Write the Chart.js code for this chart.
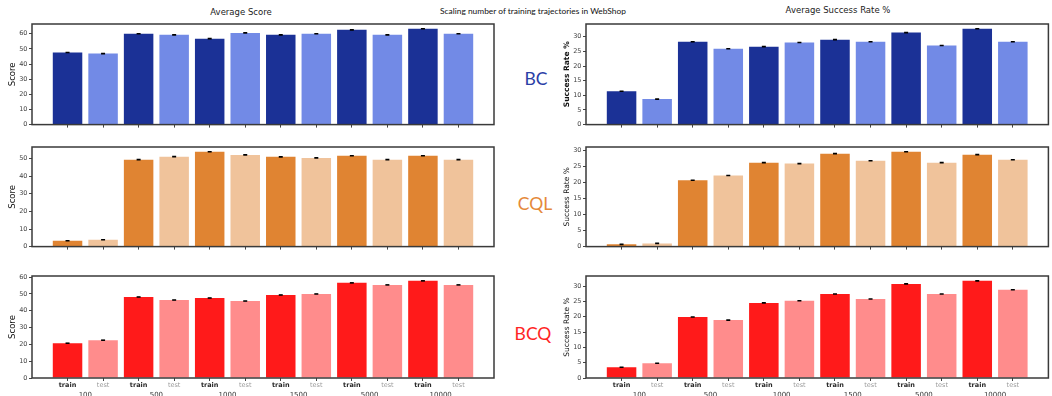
<!DOCTYPE html>
<html lang="en">
<head>
  <meta charset="UTF-8">
  <title>Scaling number of training trajectories in WebShop</title>
  <script src="https://cdn.jsdelivr.net/npm/chart.js"></script>
  <style>
    html, body {
      margin: 0;
      padding: 0;
      background: #fff;
      width: 1052px;
      height: 396px;
      overflow: hidden;
    }
    .panel { position: absolute; }
    .txt {
      position: absolute;
      transform: translate(-50%, -50%);
      white-space: nowrap;
      font-family: "DejaVu Sans", sans-serif;
      color: #222;
    }
    .row-label { font-family: Lato, "Open Sans", sans-serif; font-size: 17.5px; z-index: 2; }
  </style>
</head>
<body>

<div class="txt" style="left:241px; top:12px; font-size:8.5px;">Average Score</div>
<div class="txt" style="left:533px; top:10.5px; font-family:Lato, sans-serif; font-size:8.4px; color:#111;">Scaling number of training trajectories in WebShop</div>
<div class="txt" style="left:838px; top:10px; font-size:8.5px;">Average Success Rate %</div>

<div class="txt row-label" style="left:536px; top:78px; color:#2b3ea6;">BC</div>
<div class="txt row-label" style="left:535px; top:203px; color:#e5893a;">CQL</div>
<div class="txt row-label" style="left:533px; top:333px; color:#ff2424;">BCQ</div>

<div class="panel" style="left:0px; top:14px; width:504px; height:116px;"><canvas id="bcScore"></canvas></div>
<div class="panel" style="left:555px; top:14px; width:497px; height:116px;"><canvas id="bcSucc"></canvas></div>
<div class="panel" style="left:0px; top:137px; width:504px; height:115px;"><canvas id="cqlScore"></canvas></div>
<div class="panel" style="left:555px; top:137px; width:497px; height:115px;"><canvas id="cqlSucc"></canvas></div>
<div class="panel" style="left:0px; top:266px; width:504px; height:140px;"><canvas id="bcqScore"></canvas></div>
<div class="panel" style="left:555px; top:266px; width:497px; height:140px;"><canvas id="bcqSucc"></canvas></div>

<script>
  // data
  const groups = ['100', '500', '1000', '1500', '5000', '10000'];
  const splits = ['train', 'test'];

  const bcScore   = [47.6, 46.9, 60.0, 59.3, 56.8, 60.6, 59.3, 60.0, 62.6, 59.3, 63.3, 60.0];
  const bcSucc    = [11.4, 8.7, 28.3, 25.9, 26.6, 28.0, 29.0, 28.3, 31.4, 27.0, 32.7, 28.3];
  const cqlScore  = [3.3, 3.9, 49.4, 51.1, 53.9, 52.1, 51.0, 50.4, 51.6, 49.4, 51.6, 49.4];
  const cqlSucc   = [0.7, 1.0, 20.7, 22.2, 26.2, 25.9, 29.0, 26.8, 29.6, 26.2, 28.7, 27.1];
  const bcqScore  = [20.7, 22.5, 48.2, 46.4, 47.6, 45.8, 49.4, 50.0, 56.6, 55.4, 57.8, 55.4];
  const bcqSucc   = [3.5, 4.8, 19.9, 18.9, 24.5, 25.2, 27.4, 25.8, 30.7, 27.4, 31.7, 28.8];

  const xLabels = [];
  groups.forEach(() => splits.forEach(s => xLabels.push(s)));

  Chart.defaults.font.family = '"DejaVu Sans", sans-serif';
  Chart.defaults.color = '#333';

  // box around the plot area, like matplotlib spines
  const frame = {
    id: 'frame',
    afterDatasetsDraw(chart) {
      const a = chart.chartArea, ctx = chart.ctx;
      ctx.save();
      ctx.strokeStyle = '#3a3a3a';
      ctx.lineWidth = 1.5;
      ctx.strokeRect(a.left, a.top, a.right - a.left, a.bottom - a.top);
      ctx.restore();
    }
  };

  function makePanel(id, values, colors, yTitle, step, opt) {
    const bottom = opt.bottom;
    const scales = {
      x: {
        type: 'linear',
        min: -1,
        max: 12,
        offset: false,
        border: { display: false },
        grid: { display: true, drawOnChartArea: false, offset: false, tickLength: 3, tickColor: '#444', tickWidth: 1 },
        afterBuildTicks: s => { s.ticks = xLabels.map((_, i) => ({ value: i })); },
        afterFit: s => { s.height = bottom ? 12 : 4; },
        ticks: {
          display: bottom,
          autoSkip: false,
          maxRotation: 0,
          padding: 0,
          callback: v => xLabels[v],
          color: c => (c.index % 2 === 0 ? '#2a2a2a' : '#999'),
          font: c => ({ size: 6.5, weight: c.index % 2 === 0 ? 'bold' : 'normal' })
        }
      },
      y: {
        min: 0,
        max: Math.max(...values) * 1.05,
        border: { display: false },
        grid: { drawOnChartArea: false, tickLength: 3, tickColor: '#444', tickWidth: 1 },
        afterFit: s => { s.width = opt.yWidth; },
        ticks: { stepSize: step, includeBounds: false, padding: 1.5, color: '#444', font: { size: 6.5 } },
        title: {
          display: true,
          text: yTitle,
          color: '#111',
          padding: { top: 8, bottom: 0 },
          font: { size: opt.titleSize, weight: opt.titleBold ? 'bold' : 'normal' }
        }
      }
    };
    if (bottom) {
      scales.x2 = {
        type: 'linear',
        position: 'bottom',
        min: -1,
        max: 12,
        offset: false,
        border: { display: false },
        grid: { display: false, drawTicks: false },
        afterBuildTicks: s => { s.ticks = groups.map((_, i) => ({ value: i * 2 + 0.5 })); },
        afterFit: s => { s.height = 16; },
        ticks: {
          autoSkip: false,
          maxRotation: 0,
          padding: 1,
          color: '#333',
          font: { size: 7 },
          callback: (v, i) => groups[i]
        }
      };
    }

    new Chart(document.getElementById(id), {
      type: 'bar',
      data: {
        datasets: [
          {
            type: 'line',
            data: values.map((v, i) => ({ x: i, y: v })),
            showLine: false,
            pointStyle: 'line',
            pointRadius: 2,
            pointHoverRadius: 2,
            pointBorderWidth: 1.6,
            pointBorderColor: '#000',
            order: 0
          },
          {
            data: values.map((v, i) => ({ x: i, y: v })),
            backgroundColor: values.map((_, i) => colors[i % 2]),
            barPercentage: 0.83,
            categoryPercentage: 1,
            order: 1
          }
        ]
      },
      options: {
        responsive: true,
        maintainAspectRatio: false,
        animation: false,
        layout: { padding: { top: 10, right: opt.right, bottom: 0, left: 0 } },
        plugins: { legend: { display: false }, tooltip: { enabled: false } },
        scales: scales
      },
      plugins: [frame]
    });
  }

  const bcColors  = ['#1b3196', '#728ae6'];
  const cqlColors = ['#e08432', '#f0c39b'];
  const bcqColors = ['#ff1a1a', '#ff8c8c'];

  const left  = { yWidth: 32, right: 10, titleSize: 8.5 };
  const right = { yWidth: 31, right: 3, titleSize: 7.5 };

  makePanel('bcScore',  bcScore,  bcColors,  'Score', 10, { ...left, bottom: false });
  makePanel('bcSucc',   bcSucc,   bcColors,  'Success Rate %', 5, { ...right, bottom: false, titleBold: true });
  makePanel('cqlScore', cqlScore, cqlColors, 'Score', 10, { ...left, bottom: false });
  makePanel('cqlSucc',  cqlSucc,  cqlColors, 'Success Rate %', 5, { ...right, bottom: false });
  makePanel('bcqScore', bcqScore, bcqColors, 'Score', 10, { ...left, bottom: true });
  makePanel('bcqSucc',  bcqSucc,  bcqColors, 'Success Rate %', 5, { ...right, bottom: true });
</script>

</body>
</html>
